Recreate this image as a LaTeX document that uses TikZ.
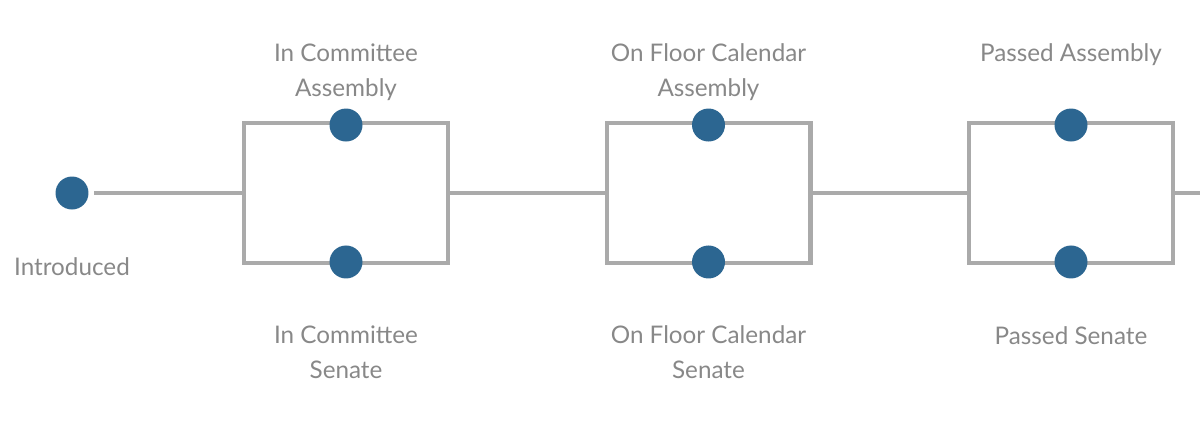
\documentclass[tikz,border=0pt]{standalone}
\usepackage{fontspec}
\setmainfont{Lato}
\usetikzlibrary{positioning}
\definecolor{cpunto}{RGB}{44,102,145}
\definecolor{clinea}{RGB}{170,170,170}
\definecolor{ctexto}{RGB}{136,136,136}

\begin{document}
\begin{tikzpicture}[x=0.02cm, y=-0.02cm, font=\fontsize{13.8}{20}\selectfont,
    punto/.style={circle, fill=cpunto, minimum size=0.66cm, inner sep=0pt, outer sep=0.12cm},
    caja/.style={draw=clinea, line width=2.3pt, minimum width=4.08cm, minimum height=2.8cm, inner sep=0pt, outer sep=0pt},
    linea/.style={draw=clinea, line width=2.3pt},
    etiqueta/.style={text=ctexto, align=center}]

  \useasboundingbox (0,0) rectangle (1200,427);

  % etapas
  \node[caja] (C1) at (346,193) {};
  \node[caja] (C2) at (708.5,193) {};
  \node[caja] (C3) at (1071,193) {};
  \foreach \c in {C1,C2,C3} {
    \node[punto] (\c a) at ([yshift=-0.04cm]\c.north) {};
    \node[punto] (\c s) at ([yshift=0.02cm]\c.south) {};
  }

  \node[punto] (I) at (72,193) {};
  \coordinate (fin) at (1200,193);

  % conexiones
  \draw[linea] (I) -- (C1.west);
  \draw[linea] (C1.east) -- (C2.west);
  \draw[linea] (C2.east) -- (C3.west);
  \draw[linea] (C3.east) -- (fin);

  % etiquetas
  \node[etiqueta] (tI) at (72,267) {Introduced};
  \node[etiqueta] (t1a) at (346,72) {In Committee\\Assembly};
  \node[etiqueta] (t1s) at (346,352.5) {In Committee\\Senate};
  \node[etiqueta] (t2a) at (708.5,72) {On Floor Calendar\\Assembly};
  \node[etiqueta] (t2s) at (708.5,352.5) {On Floor Calendar\\Senate};
  \node[etiqueta] (t3a) at (1071,54.5) {Passed Assembly};
  \node[etiqueta] (t3s) at (1071,335.5) {Passed Senate};
\end{tikzpicture}
\end{document}
